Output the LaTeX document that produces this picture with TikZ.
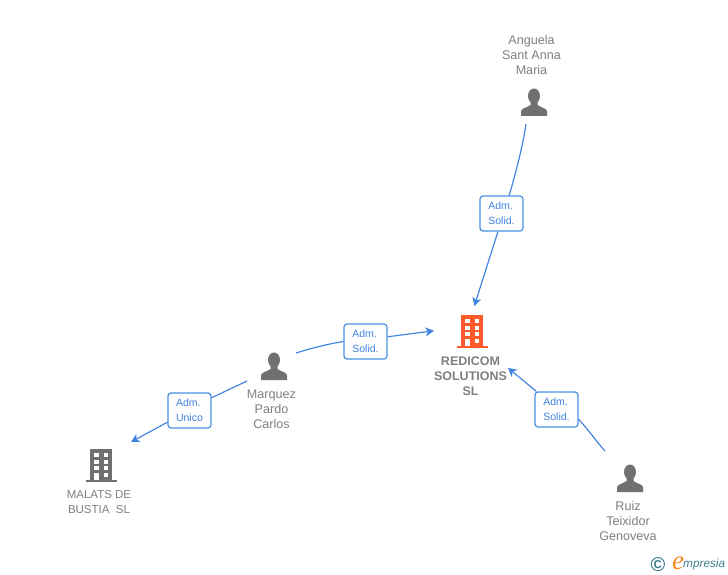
\documentclass[tikz,border=0pt]{standalone}
\usepackage{fontspec}
\setmainfont{Liberation Sans}
\usetikzlibrary{arrows.meta}
\newfontfamily\logofont{Liberation Serif}
\definecolor{iconGrey}{HTML}{707070}
\definecolor{textGrey}{HTML}{808080}
\definecolor{linkBlue}{HTML}{3F82E0}
\definecolor{boxBlue}{HTML}{4A90E2}
\definecolor{orangeRed}{HTML}{FF5A2C}
\definecolor{logoTeal}{HTML}{3F7F92}
\definecolor{logoOrange}{HTML}{F08A24}
\tikzset{
  x=1pt,y=-1pt,
  conn/.style={draw=linkBlue,line width=1.15pt},
  arrowconn/.style={conn,-{Stealth[length=8.5pt,width=9pt,inset=2.5pt]}},
  linkbox/.style={draw=boxBlue,line width=1.2pt,fill=white,rounded corners=3pt,minimum width=43pt,minimum height=35pt,inner sep=0pt,font=\fontsize{10.5}{15}\selectfont,text=linkBlue,align=left},
  caption/.style={font=\fontsize{12.6}{15}\selectfont,text=textGrey,align=center,inner sep=0pt},
  anchorbox/.style={inner sep=0pt,outer sep=0pt,minimum width=#1},
  person/.pic={
    \fill[iconGrey] (0,-7) ellipse [x radius=6pt,y radius=7.5pt];
    \fill[iconGrey] (-13,13) -- (-13,8) .. controls (-12,5) and (-6.5,4.5) .. (-3.5,2) -- (-3.5,-2) -- (3.5,-2) -- (3.5,2) .. controls (6.5,4.5) and (12,5) .. (13,8) -- (13,13) -- cycle;
  },
  building/.pic={
    \fill[pic actions] (-11,-16) rectangle (11,15.5);
    \fill[pic actions] (-15,15) rectangle (16,17);
    \fill[white] (-7,-12.2) rectangle (-2.5,-8.1);
    \fill[white] (2.8,-12.2) rectangle (7.3,-8.1);
    \fill[white] (-7,-5.5) rectangle (-2.5,-1.5);
    \fill[white] (2.8,-5.5) rectangle (7.3,-1.5);
    \fill[white] (-7,0.8) rectangle (-2.5,5.2);
    \fill[white] (2.8,0.8) rectangle (7.3,5.2);
    \fill[white] (-7,8) rectangle (-2.5,15);
    \fill[white] (2.8,8) rectangle (7.3,11.9);
  }
}
\begin{document}
\begin{tikzpicture}
\useasboundingbox (0,0) rectangle (728,575);
\fill[white] (0,0) rectangle (728,575);

% invisible boxes that give the connectors their ends
\node[anchorbox=74pt,minimum height=94pt] (redicom) at (471,353) {};
\node[anchorbox=49pt,minimum height=28pt] (marquez) at (271.5,367) {};
\node[anchorbox=62pt,minimum height=46pt] (malats) at (100,465) {};
\node[anchorbox=50pt,minimum height=56pt] (ruiz) at (630,479) {};
\node[anchorbox=16pt,minimum height=42pt] (anguela) at (534,103) {};

% icons
\pic at (534,103) {person};
\pic at (274,367) {person};
\pic at (630,479) {person};
\pic[fill=orangeRed] at (472,331) {building};
\pic[fill=iconGrey] at (101,465) {building};

% captions
\node[caption] (capAnguela) at (531.5,55) {Anguela\\Sant Anna\\Maria};
\node[caption,font=\fontsize{12.5}{15}\selectfont\bfseries] (capRedicom) at (470.5,376) {REDICOM\\SOLUTIONS\\SL};
\node[caption] (capMarquez) at (271.5,409) {Marquez\\Pardo\\Carlos};
\node[caption,font=\fontsize{11.5}{15}\selectfont] (capMalats) at (99,502.5) {MALATS DE\\BUSTIA\ \ SL};
\node[caption] (capRuiz) at (628,521) {Ruiz\\Teixidor\\Genoveva};

% link labels
\node[linkbox] (l1) at (501.5,213.5) {Adm.\\Solid.};
\node[linkbox] (l2) at (365.5,341.5) {Adm.\\Solid.};
\node[linkbox] (l3) at (189.5,410.5) {Adm.\\Unico};
\node[linkbox] (l4) at (556.5,409.5) {Adm.\\Solid.};

% connectors
\draw[conn] (anguela.south west) .. controls (523,145) and (516,172) .. (l1.67);
\draw[arrowconn] (l1.259) -- (redicom.86);
\draw[conn] (marquez.north east) .. controls (312,348) and (328,344) .. (l2.west);
\draw[arrowconn] (l2.12) -- (redicom.149);
\draw[conn] (marquez.south west) -- (l3.30);
\draw[arrowconn] (l3.208) -- (malats.north east);
\draw[conn] (ruiz.north west) .. controls (596,441) and (587,428) .. (l4.-24);
\draw[arrowconn] (l4.138) -- (redicom.-22.6);

% logo
\node[inner sep=0pt,text=logoTeal,font=\fontsize{20}{20}\selectfont\bfseries] (logoC) at (658,564.5) {©};
\node[inner sep=0pt,text=logoOrange,font=\logofont\itshape\fontsize{27}{27}\selectfont] (logoE) at (678,563.5) {e};
\node[inner sep=0pt,text=logoTeal,font=\itshape\fontsize{11.8}{12}\selectfont,anchor=west] (logoText) at (683,564) {mpresia};
\end{tikzpicture}
\end{document}
